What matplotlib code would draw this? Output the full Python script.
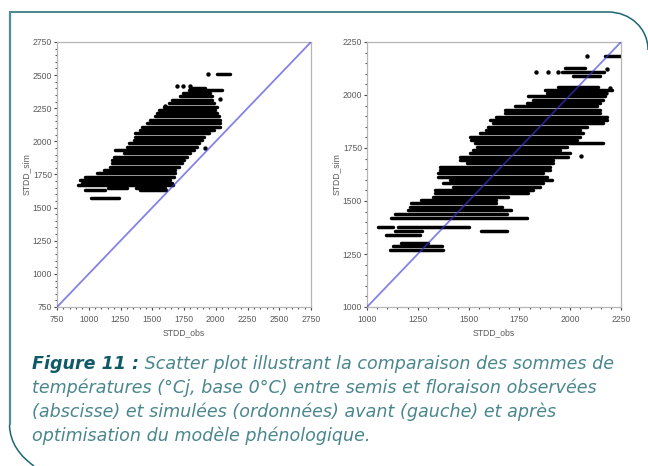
import numpy as np
import matplotlib
matplotlib.use("Agg")
import matplotlib.pyplot as plt
from matplotlib.patches import PathPatch
from matplotlib.path import Path

# before optimisation (left panel): rows of points, y level and x extent
left_y = [1575, 1635, 1635, 1650, 1650, 1670, 1683, 1708, 1733, 1759, 1784, 1809, 1834, 1860, 1885, 1910,
          1935, 1960, 1986, 2011, 2036, 2061, 2087, 2112, 2137, 2162, 2188, 2213,
          2238, 2263, 2288, 2314, 2339, 2364, 2389, 2402, 2508]
left_x0 = [1020, 970, 1400, 1150, 1370, 913, 945, 934, 973, 1065, 1117, 1170, 1183, 1183, 1196, 1275,
           1209, 1301, 1314, 1354, 1367, 1367, 1406, 1419, 1459, 1485, 1524, 1537,
           1550, 1590, 1629, 1656, 1721, 1742, 1787, 1800, 2010]
left_x1 = [1235, 1130, 1610, 1300, 1600, 1660, 1656, 1642, 1669, 1682, 1682, 1708, 1734, 1747, 1774, 1800,
           1826, 1852, 1866, 1892, 1905, 1944, 1984, 2036, 2036, 2036, 2023, 2010,
           1997, 2010, 1984, 1971, 1971, 1957, 2049, 1918, 2115]
left_pts_x = [1937, 1695, 1745, 1800, 1913, 2031, 1598]
left_pts_y = [2508, 2420, 2415, 2420, 1948, 2321, 2268]

# after optimisation (right panel)
right_y = [1271, 1287, 1303, 1339, 1359, 1359, 1375, 1375, 1422, 1441, 1457, 1473, 1489, 1504, 1520, 1536,
           1552, 1567, 1583, 1599, 1615, 1630, 1646, 1662, 1678, 1693, 1709, 1725,
           1741, 1756, 1772, 1788, 1804, 1820, 1835, 1851, 1867, 1883, 1898, 1914,
           1930, 1946, 1961, 1977, 1993, 2009, 2024, 2040, 2088, 2108, 2127, 2183]
right_x0 = [1115, 1130, 1169, 1095, 1136, 1560, 1054, 1154, 1120, 1136, 1202, 1210, 1218, 1268, 1325, 1333,
            1333, 1424, 1375, 1407, 1350, 1350, 1358, 1358, 1490, 1457, 1457, 1506,
            1522, 1539, 1531, 1514, 1506, 1555, 1588, 1596, 1621, 1604, 1637, 1678,
            1678, 1728, 1785, 1818, 1793, 1884, 1875, 1941, 2015, 1960, 1974, 2170]
right_x1 = [1375, 1370, 1301, 1260, 1270, 1690, 1128, 1500, 1788, 1687, 1711, 1662, 1637, 1637, 1695, 1793,
            1818, 1851, 1867, 1908, 1884, 1867, 1900, 1900, 1917, 1917, 1990, 1999,
            1949, 1982, 2163, 2032, 2048, 2064, 2048, 2081, 2163, 2179, 2179, 2147,
            2147, 2130, 2147, 2163, 2171, 2171, 2204, 2138, 2147, 2165, 2073, 2250]
right_pts_x = [2081, 1834, 1889, 1941, 2051, 2196, 2176, 2183]
right_pts_y = [2185, 2108, 2108, 2108, 1714, 2032, 2009, 2122]

left_ticks = [750, 1000, 1250, 1500, 1750, 2000, 2250, 2500, 2750]
right_ticks = [1000, 1250, 1500, 1750, 2000, 2250]

caption_bold = "Figure 11 :"
caption_lines = [" Scatter plot illustrant la comparaison des sommes de",
                 "températures (°Cj, base 0°C) entre semis et floraison observées",
                 "(abscisse) et simulées (ordonnées) avant (gauche) et après",
                 "optimisation du modèle phénologique."]

W, H = 648, 466
fig = plt.figure(figsize=(W / 100, H / 100), dpi=100)
plt.rcParams['font.family'] = ['Liberation Sans', 'DejaVu Sans']


def panel(box, ys, x0, x1, px, py, ticks, minor):
    ax = fig.add_axes([box[0] / W, 1 - box[3] / H, (box[2] - box[0]) / W, (box[3] - box[1]) / H])
    lo, hi = ticks[0], ticks[-1]
    ax.hlines(ys, x0, x1, color='black', linewidth=2.5, capstyle='round', zorder=2)
    ax.scatter(px, py, s=10, color='black', zorder=2, linewidths=0)
    ax.plot([lo, hi], [lo, hi], color='#3a35d8', alpha=0.62, linewidth=1.3, zorder=3)
    ax.set_xlim(lo, hi)
    ax.set_ylim(lo, hi)
    ax.set_xticks(ticks)
    ax.set_yticks(ticks)
    ax.set_xticks(np.arange(lo, hi, minor), minor=True)
    ax.set_yticks(np.arange(lo, hi, minor), minor=True)
    ax.tick_params(which='major', length=2.5, width=0.8, color='#444444', labelsize=6.2,
                   labelcolor='#5a5a5a', pad=1)
    ax.tick_params(axis='x', which='major', pad=3)
    ax.tick_params(which='minor', length=1.4, width=0.8, color='#555555')
    ax.set_xlabel("STDD_obs", fontsize=6.2, color='#5a5a5a', labelpad=3)
    ax.set_ylabel("STDD_sim", fontsize=6.2, color='#5a5a5a', labelpad=1)
    for s in ax.spines.values():
        s.set_color('#b5b5b5')
        s.set_linewidth(0.9)
    return ax


panel((57, 42, 311, 307), left_y, left_x0, left_x1, left_pts_x, left_pts_y, left_ticks, 50)
panel((367, 42, 621, 307), right_y, right_x0, right_x1, right_pts_x, right_pts_y, right_ticks, 50)


def frame(pts, codes, color, lw):
    pts = [(x / W, 1 - y / H) for x, y in pts]
    fig.add_artist(PathPatch(Path(pts, codes), fill=False, edgecolor=color, linewidth=lw,
                             transform=fig.transFigure, capstyle='butt'))


# frame round the figure: top edge, left edge, bottom left curve
frame([(10, 12), (608, 12), (630, 12), (648, 28), (648, 50)],
      [Path.MOVETO, Path.LINETO, Path.CURVE4, Path.CURVE4, Path.CURVE4], '#1d6672', 1.1)
frame([(9.5, 11), (9.5, 425)], [Path.MOVETO, Path.LINETO], '#4f8d97', 1.6)
frame([(9.5, 425), (10, 443), (20, 456), (34, 466)],
      [Path.MOVETO, Path.CURVE4, Path.CURVE4, Path.CURVE4], '#1d6672', 1.1)

# caption
cap = '#4a868d'
fs = 12.6
font = 'DejaVu Sans'
yy = [364, 388, 412, 436]
t = fig.text(32 / W, 1 - yy[0] / H, caption_bold, fontsize=fs, style='italic', weight='bold',
             color='#0f5a66', family=font, va='center')
fig.canvas.draw()
bb = t.get_window_extent()
fig.text(bb.x1 / W, 1 - yy[0] / H, caption_lines[0], fontsize=fs, style='italic', color=cap,
         family=font, va='center')
for s, y in zip(caption_lines[1:], yy[1:]):
    fig.text(32 / W, 1 - y / H, s, fontsize=fs, style='italic', color=cap, family=font, va='center')

fig.savefig("out.png", dpi=100)
